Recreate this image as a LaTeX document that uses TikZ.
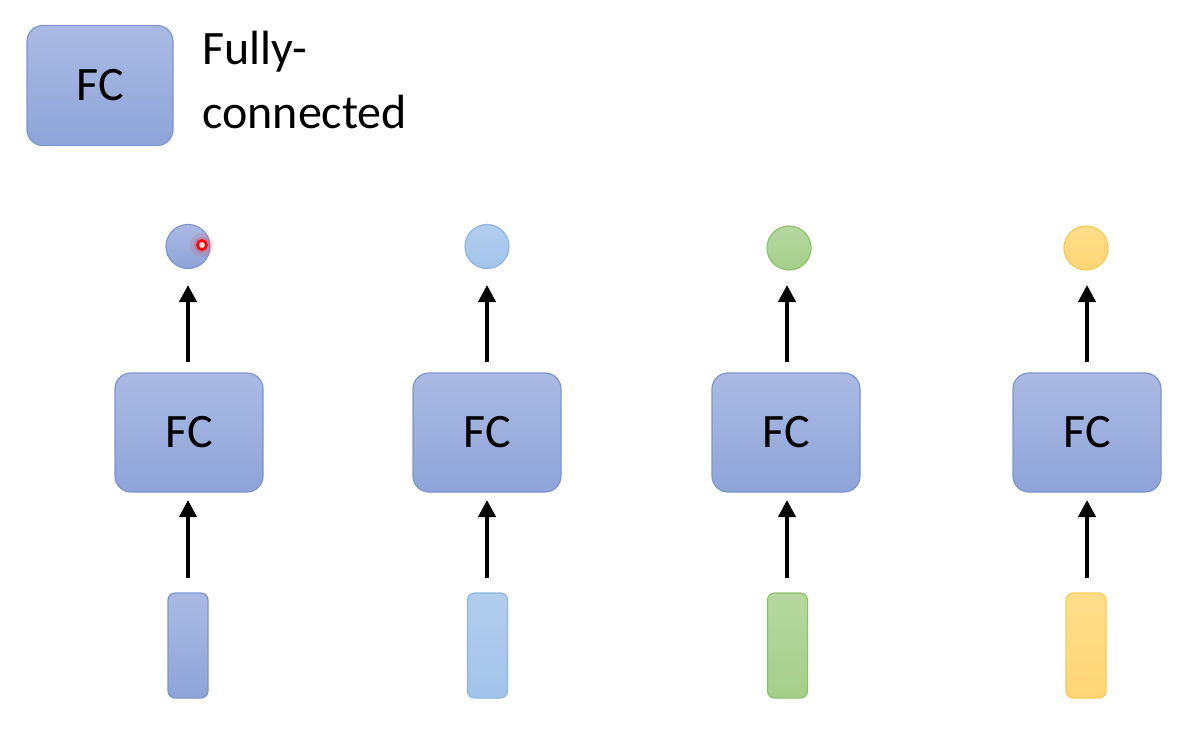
\documentclass[tikz,border=0pt]{standalone}
\usepackage{fontspec}
\setmainfont{Carlito}
\usetikzlibrary{arrows.meta}
\definecolor{fcTop}{HTML}{AABAE3}
\definecolor{fcBot}{HTML}{8EA4D9}
\definecolor{fcLine}{HTML}{7D94CE}
\definecolor{lbTop}{HTML}{B2CEEE}
\definecolor{lbBot}{HTML}{A2C3EA}
\definecolor{lbLine}{HTML}{8DB6E3}
\definecolor{grTop}{HTML}{B5D8A0}
\definecolor{grBot}{HTML}{A5CE8A}
\definecolor{grLine}{HTML}{8CC26E}
\definecolor{yeTop}{HTML}{FFDD8A}
\definecolor{yeBot}{HTML}{FFD676}
\definecolor{yeLine}{HTML}{F8CB55}
\tikzset{
  fcbox/.style={draw=fcLine, line width=0.6pt, top color=fcTop, bottom color=fcBot,
    rounded corners=8pt, minimum width=74pt, minimum height=59.5pt,
    font=\fontsize{24}{26}\selectfont, inner sep=0pt},
  outdot/.style={circle, line width=0.6pt, minimum size=22pt, inner sep=0pt},
  invec/.style={rectangle, line width=0.6pt, rounded corners=3.5pt,
    minimum width=20pt, minimum height=52.5pt, inner sep=0pt},
  arr/.style={-{Triangle[width=8.5pt,length=8.5pt]}, line width=2pt, black},
  legtext/.style={anchor=base west, font=\fontsize{24}{28}\selectfont, inner sep=0pt}
}
\begin{document}
\begin{tikzpicture}[x=0.5pt,y=-0.5pt]
\useasboundingbox[fill=white] (0,0) rectangle (1188,729);
% legend
\node[fcbox, minimum width=73pt, minimum height=60pt] (leg) at (100,85.5) {FC};
\node[legtext] (legt1) at (202,64) {Fully-};
\node[legtext] (legt2) at (202,128) {connected};
% column 1
\node[outdot, draw=fcLine, top color=fcTop, bottom color=fcBot] (out1) at (188,246.5) {};
\node[fcbox] (fc1) at (189,432.5) {FC};
\node[invec, draw=fcLine, top color=fcTop, bottom color=fcBot] (in1) at (188,645.5) {};
% column 2
\node[outdot, draw=lbLine, top color=lbTop, bottom color=lbBot] (out2) at (487,246.5) {};
\node[fcbox] (fc2) at (487,432.5) {FC};
\node[invec, draw=lbLine, top color=lbTop, bottom color=lbBot] (in2) at (487.5,645.5) {};
% column 3
\node[outdot, draw=grLine, top color=grTop, bottom color=grBot] (out3) at (789,248) {};
\node[fcbox] (fc3) at (786,432.5) {FC};
\node[invec, draw=grLine, top color=grTop, bottom color=grBot] (in3) at (787.5,645.5) {};
% column 4
\node[outdot, draw=yeLine, top color=yeTop, bottom color=yeBot] (out4) at (1086,248) {};
\node[fcbox] (fc4) at (1087,432.5) {FC};
\node[invec, draw=yeLine, top color=yeTop, bottom color=yeBot] (in4) at (1086,645.5) {};
% arrows
\foreach \i/\x in {1/188,2/487,3/787,4/1087}{
  \coordinate (lt\i) at (\x,578);
  \coordinate (lh\i) at (\x,500);
  \coordinate (ut\i) at (\x,362);
  \coordinate (uh\i) at (\x,285);
  \draw[arr] (lt\i) -- (lh\i);
  \draw[arr] (ut\i) -- (uh\i);
}
% laser pointer mark
\fill[red, opacity=0.10] (202,245) circle (12);
\fill[red, opacity=0.18] (202,245) circle (8);
\draw[red, line width=1.3pt, fill=pink!60] (202,245) circle (4.5);
\end{tikzpicture}
\end{document}
